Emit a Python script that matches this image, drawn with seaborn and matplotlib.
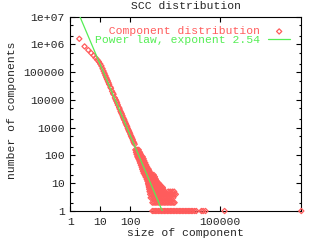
import numpy as np
import matplotlib
matplotlib.use("Agg")
import matplotlib.pyplot as plt
import seaborn as sns
from matplotlib.ticker import FixedLocator, NullFormatter, NullLocator

# ---- data ----
head_sizes = [2, 3, 4, 5, 6, 7, 8, 9, 10, 11, 12, 13, 14, 15]
head_counts = [1600000, 850000, 630000, 490000, 400000, 330000, 280000,
               240000, 200000, 168000, 135000, 110000, 91000, 76000]

body_sizes = [16, 17, 18, 19, 20, 22, 23, 25, 27, 28, 31, 33, 35, 37, 39,
              43, 45, 48, 50, 53, 56, 59, 62, 65, 69, 72, 76, 80, 84, 88,
              92, 97, 102, 107, 112, 118, 124, 130, 136, 143]
body_counts = [64000, 55500, 48500, 42000, 36500, 29200, 26500, 20600, 17400,
               15900, 11900, 10300, 9000, 7800, 6600, 5350, 4700, 3900, 3500,
               3150, 2700, 2300, 2050, 1880, 1580, 1400, 1240, 1110, 950,
               840, 760, 680, 590, 510, 465, 415, 365, 310, 285, 255]

# tail: component sizes listed per count level
level_counts = [160, 130, 110, 90, 76, 64, 54, 45, 38, 32, 27, 23, 20, 17,
                14, 12, 10, 9, 8, 7, 6, 5, 4, 3, 2, 1]
sizes_160 = [150, 165, 180, 195]
sizes_130 = [158, 175, 195, 215]
sizes_110 = [165, 185, 205, 230]
sizes_90 = [175, 195, 220, 245, 265]
sizes_76 = [190, 210, 235, 260, 285]
sizes_64 = [205, 225, 250, 275, 300]
sizes_54 = [215, 240, 265, 295, 325]
sizes_45 = [230, 255, 285, 315, 350]
sizes_38 = [245, 270, 300, 335, 375]
sizes_32 = [255, 285, 320, 360, 400, 420]
sizes_27 = [270, 300, 340, 380, 420, 450]
sizes_23 = [285, 320, 360, 400, 440, 480]
sizes_20 = [310, 350, 390, 440, 490, 550, 620]
sizes_17 = [330, 370, 420, 470, 530, 600, 680]
sizes_14 = [360, 400, 450, 510, 570, 640, 730]
sizes_12 = [380, 430, 480, 540, 610, 690, 780]
sizes_10 = [400, 450, 510, 570, 640, 720, 810, 900]
sizes_9 = [410, 460, 520, 580, 650, 730, 820, 930, 1000]
sizes_8 = [420, 470, 530, 600, 670, 750, 850, 950, 1050]
sizes_7 = [430, 490, 550, 620, 690, 780, 870, 980, 1100, 1250]
sizes_6 = [440, 500, 560, 630, 710, 800, 900, 1000, 1150, 1300]
sizes_5 = [450, 510, 570, 640, 720, 810, 910, 1020, 1150, 1300, 1450,
           1900, 2200, 2600, 3000]
sizes_4 = [470, 530, 600, 670, 750, 840, 950, 1060, 1200, 1350, 1500, 1700,
           1900, 2150, 2400, 2700, 3000, 3400]
sizes_3 = [490, 550, 620, 700, 780, 880, 980, 1100, 1240, 1390, 1560, 1750,
           1960, 2200, 2470, 2800]
sizes_2 = [560, 630, 700, 790, 890, 1000, 1120, 1260, 1410, 1580, 1780,
           2000, 2240, 2500, 2800, 3100]
sizes_1 = [560, 630, 700, 790, 890, 1000, 1120, 1260, 1410, 1580, 1780, 2000,
           2240, 2500, 2800, 3150, 3550, 4000, 4500, 5000, 5600, 6300, 7100,
           8000, 8900, 10000, 11200, 12500, 14500, 16500, 24500, 28000,
           33500, 146000, 54000000]
level_sizes = [sizes_160, sizes_130, sizes_110, sizes_90, sizes_76, sizes_64,
               sizes_54, sizes_45, sizes_38, sizes_32, sizes_27, sizes_23,
               sizes_20, sizes_17, sizes_14, sizes_12, sizes_10, sizes_9,
               sizes_8, sizes_7, sizes_6, sizes_5, sizes_4, sizes_3, sizes_2,
               sizes_1]

fit_exponent = 2.54
fit_coefficient = 6.6e7

x_ticks = [1, 10, 100, 100000]
x_tick_labels = ["1", "10", "100", "100000"]
y_ticks = [1, 10, 100, 1000, 10000, 100000, 1e6, 1e7]
y_tick_labels = ["1", "10", "100", "1000", "10000", "100000", "1e+06", "1e+07"]
y_minor_ticks = [2, 5, 20, 50, 200, 500, 2000, 5000, 2e4, 5e4, 2e5, 5e5, 2e6, 5e6]

title = "SCC distribution"
x_label = "size of component"
y_label = "number of components"
label_points = "  Component distribution"
label_fit = "Power law, exponent 2.54"

RED = "#ff5c5c"
GREEN = "#55ee55"
FS = 8.2

# ---- drawing ----
sns.set_style("ticks")
plt.rcParams["font.family"] = ["Liberation Mono", "DejaVu Sans Mono"]
plt.rcParams["font.size"] = FS

tail_sizes = [s for row in level_sizes for s in row]
tail_counts = [c for c, row in zip(level_counts, level_sizes) for _ in row]

sizes = np.array(head_sizes + body_sizes + tail_sizes, dtype=float)
counts = np.array(head_counts + body_counts + tail_counts, dtype=float)

fig = plt.figure(figsize=(3.2, 2.4), dpi=100)
ax = fig.add_axes([0.2197, 0.1208, 0.7219, 0.8096])

sns.scatterplot(x=sizes, y=counts, marker="D", s=7, color=RED,
                facecolor="none", edgecolor=RED, linewidth=0.9,
                label=label_points, ax=ax, clip_on=False, zorder=3)

fit_x = np.array([1.0, sizes.max()])
fit_y = fit_coefficient * fit_x ** (-fit_exponent)
sns.lineplot(x=fit_x, y=fit_y, color=GREEN, linewidth=0.9,
             label=label_fit, ax=ax, zorder=4)

ax.set_xscale("log")
ax.set_yscale("log")
ax.set_xlim(1, sizes.max())
ax.set_ylim(1, 1e7)

ax.xaxis.set_major_locator(FixedLocator(x_ticks))
ax.set_xticklabels(x_tick_labels)
ax.xaxis.set_minor_locator(NullLocator())
ax.yaxis.set_major_locator(FixedLocator(y_ticks))
ax.set_yticklabels(y_tick_labels)
ax.yaxis.set_minor_locator(FixedLocator(y_minor_ticks))
ax.yaxis.set_minor_formatter(NullFormatter())

ax.tick_params(which="both", direction="in", top=True, right=True,
               color="black", labelsize=FS)
ax.tick_params(which="major", length=3.6, width=0.8)
ax.tick_params(which="minor", length=1.8, width=0.8)
ax.tick_params(axis="x", pad=4)
ax.tick_params(axis="y", pad=4)

for sp in ax.spines.values():
    sp.set_visible(True)
    sp.set_color("black")
    sp.set_linewidth(0.8)

ax.set_title(title, fontsize=FS, pad=5.3)
ax.set_xlabel(x_label, fontsize=FS)
ax.set_ylabel(y_label, fontsize=FS)
ax.xaxis.set_label_coords(0.5, -0.088)
ax.yaxis.set_label_coords(-0.231, 0.52)

leg = ax.legend(loc="upper right", bbox_to_anchor=(0.951, 0.95),
                frameon=False, markerfirst=False, handlelength=1.9,
                handletextpad=0.7, borderpad=0, borderaxespad=0,
                labelspacing=-0.1, fontsize=FS)
for txt, col in zip(leg.get_texts(), [RED, GREEN]):
    txt.set_color(col)

fig.savefig("out.png", dpi=100)
